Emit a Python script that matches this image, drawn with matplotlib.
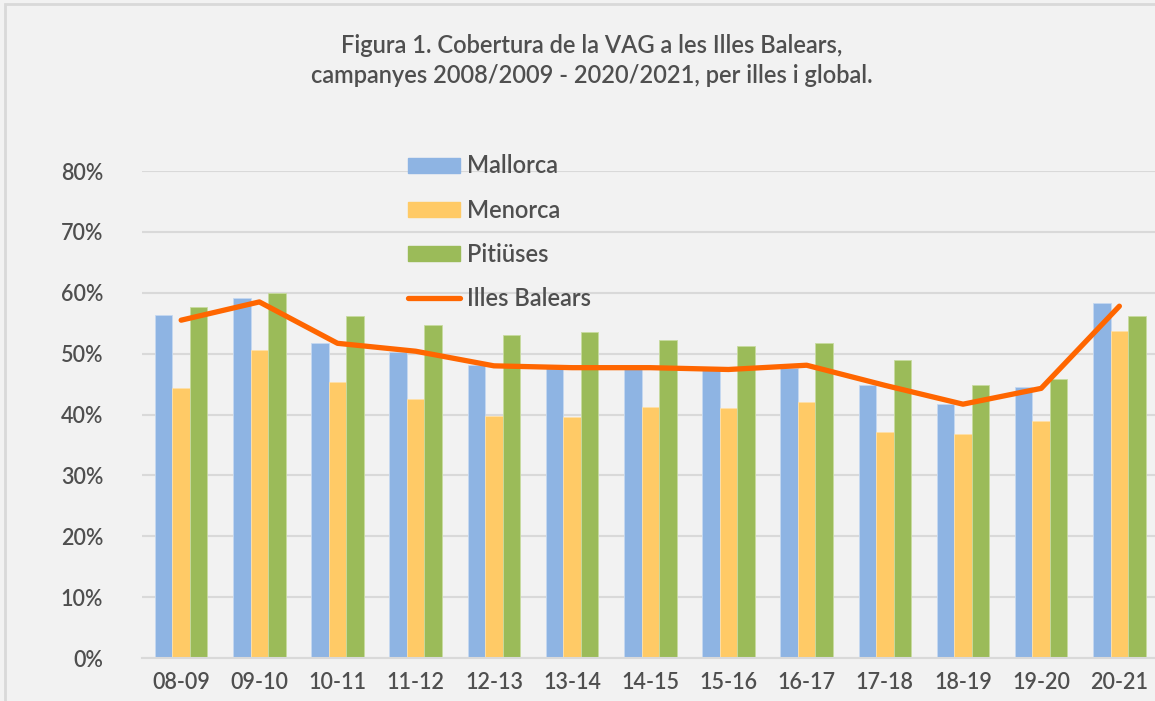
import matplotlib
matplotlib.use('Agg')
import matplotlib.pyplot as plt
import matplotlib.patches as mpatches
import numpy as np

CAMPAIGNS = ['08-09', '09-10', '10-11', '11-12', '12-13', '13-14', '14-15',
             '15-16', '16-17', '17-18', '18-19', '19-20', '20-21']
MALLORCA = [56.4, 59.2, 51.7, 50.2, 48.2, 47.8, 47.5, 47.3, 47.6, 44.8, 41.7, 44.5, 58.4]
MENORCA = [44.3, 50.6, 45.4, 42.5, 39.8, 39.6, 41.2, 41.1, 42.1, 37.1, 36.8, 38.9, 53.7]
PITIUSES = [57.7, 60.0, 56.2, 54.7, 53.0, 53.5, 52.3, 51.3, 51.7, 49.0, 44.9, 45.9, 56.2]
BALEARS = [55.5, 58.5, 51.7, 50.4, 48.0, 47.7, 47.7, 47.4, 48.1, 44.8, 41.7, 44.3, 57.8]

BLUE = '#8EB4E3'
YELLOW = '#FFCA66'
GREEN = '#9BBB59'
ORANGE = '#FF6600'
TEXT = '#4F4F4F'
BG = '#F2F2F2'

plt.rcParams['font.family'] = ['Lato', 'DejaVu Sans']
plt.rcParams['font.weight'] = 'semibold'

fig = plt.figure(figsize=(11.55, 7.01), dpi=100, facecolor=BG)
# light frame around the chart
fig.patches.append(mpatches.Rectangle((0.004, -0.01), 1.1, 1.005, transform=fig.transFigure,
                                      fill=False, edgecolor='#D9D9D9', linewidth=2))

ax = fig.add_axes([0.123, 0.0613, 0.88, 0.6947])
ax.set_facecolor(BG)

x = np.arange(len(CAMPAIGNS))
w = 0.224
to_frac = lambda v: [a / 100 for a in v]
ax.bar(x - w, to_frac(MALLORCA), w, color=BLUE, edgecolor='#C5D9F1', linewidth=0.6, zorder=2)
ax.bar(x, to_frac(MENORCA), w, color=YELLOW, edgecolor='#FFE0A8', linewidth=0.6, zorder=2)
ax.bar(x + w, to_frac(PITIUSES), w, color=GREEN, edgecolor='#C8DBA0', linewidth=0.6, zorder=2)
ax.plot(x, to_frac(BALEARS), color=ORANGE, linewidth=3.8, solid_capstyle='round',
        solid_joinstyle='round', zorder=3)

ax.set_xlim(-0.5, len(CAMPAIGNS) - 0.5)
ax.set_ylim(0, 0.8)
ax.set_yticks(np.arange(0, 0.81, 0.1))
ax.set_yticklabels([f'{int(round(t * 100))}%' for t in np.arange(0, 0.81, 0.1)])
ax.set_xticks(x)
ax.set_xticklabels(CAMPAIGNS)
ax.tick_params(axis='both', length=0, labelsize=15.5, colors=TEXT)
ax.tick_params(axis='y', pad=28)
ax.tick_params(axis='x', pad=10)
ax.yaxis.grid(True, color='#D9D9D9', linewidth=1.5, zorder=0)
ax.set_axisbelow(True)
for s in ['top', 'right', 'left']:
    ax.spines[s].set_visible(False)
ax.spines['bottom'].set_color('#D9D9D9')
ax.spines['bottom'].set_linewidth(1.5)

fig.text(0.512, 0.914, 'Figura 1. Cobertura de la VAG a les Illes Balears,\n'
         'campanyes 2008/2009 - 2020/2021, per illes i global.',
         ha='center', va='center', fontsize=17, color=TEXT, linespacing=1.35)

handles = [
    mpatches.Patch(color=BLUE, label='Mallorca'),
    mpatches.Patch(color=YELLOW, label='Menorca'),
    mpatches.Patch(color=GREEN, label='Pitiüses'),
    plt.Line2D([], [], color=ORANGE, linewidth=3.8, solid_capstyle='round', label='Illes Balears'),
]
leg = fig.legend(handles=handles, loc='upper left', bbox_to_anchor=(0.335, 0.81),
                 frameon=False, fontsize=17, labelcolor=TEXT, handlelength=2.2,
                 handleheight=0.6, handletextpad=0.3, labelspacing=0.9)

fig.savefig('out.png', dpi=100, facecolor=BG)
